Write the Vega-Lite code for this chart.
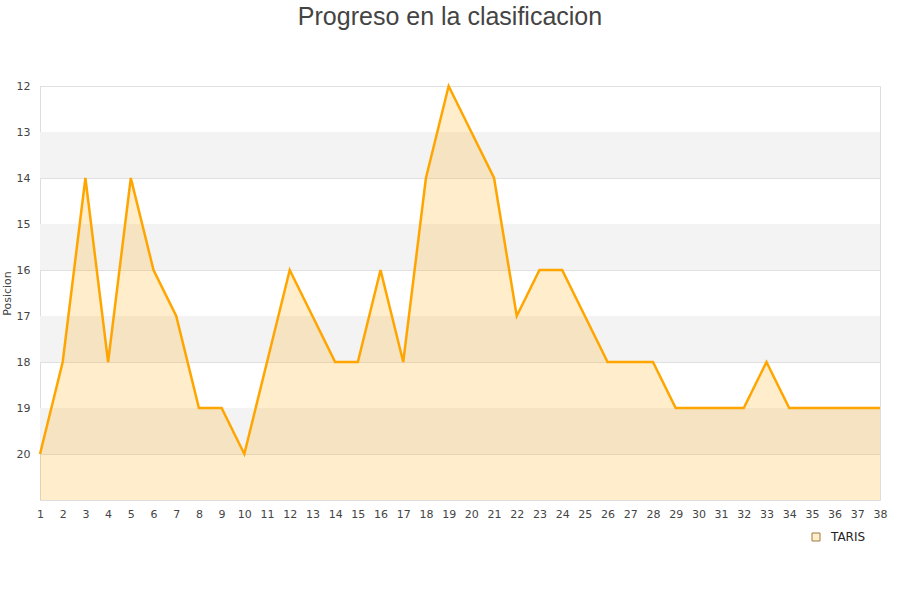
{
  "$schema": "https://vega.github.io/schema/vega-lite/v6.json",
  "width": 840,
  "height": 414,
  "autosize": {"type": "none"},
  "padding": {"left": 40, "top": 86, "right": 20, "bottom": 100},
  "title": {"text": "Progreso en la clasificacion", "fontSize": 25, "font": "Liberation Sans", "fontWeight": "normal", "color": "#444444", "anchor": "middle", "offset": 50, "dx": -10},
  "config": {
    "view": {"stroke": "#dddddd"},
    "axis": {"labelFont": "DejaVu Sans", "labelFontSize": 11, "labelColor": "#444444", "ticks": false, "domain": false, "gridColor": "#e0e0e0", "titleFont": "DejaVu Sans", "titleFontWeight": "normal", "titleFontSize": 11, "titleColor": "#444444"}
  },
  "datasets": {
    "bands": [
      {"b0": 13, "b1": 14},
      {"b0": 15, "b1": 16},
      {"b0": 17, "b1": 18},
      {"b0": 19, "b1": 20}
    ],
    "pos": [
      {"jornada": 1, "posicion": 20},
      {"jornada": 2, "posicion": 18},
      {"jornada": 3, "posicion": 14},
      {"jornada": 4, "posicion": 18},
      {"jornada": 5, "posicion": 14},
      {"jornada": 6, "posicion": 16},
      {"jornada": 7, "posicion": 17},
      {"jornada": 8, "posicion": 19},
      {"jornada": 9, "posicion": 19},
      {"jornada": 10, "posicion": 20},
      {"jornada": 11, "posicion": 18},
      {"jornada": 12, "posicion": 16},
      {"jornada": 13, "posicion": 17},
      {"jornada": 14, "posicion": 18},
      {"jornada": 15, "posicion": 18},
      {"jornada": 16, "posicion": 16},
      {"jornada": 17, "posicion": 18},
      {"jornada": 18, "posicion": 14},
      {"jornada": 19, "posicion": 12},
      {"jornada": 20, "posicion": 13},
      {"jornada": 21, "posicion": 14},
      {"jornada": 22, "posicion": 17},
      {"jornada": 23, "posicion": 16},
      {"jornada": 24, "posicion": 16},
      {"jornada": 25, "posicion": 17},
      {"jornada": 26, "posicion": 18},
      {"jornada": 27, "posicion": 18},
      {"jornada": 28, "posicion": 18},
      {"jornada": 29, "posicion": 19},
      {"jornada": 30, "posicion": 19},
      {"jornada": 31, "posicion": 19},
      {"jornada": 32, "posicion": 19},
      {"jornada": 33, "posicion": 18},
      {"jornada": 34, "posicion": 19},
      {"jornada": 35, "posicion": 19},
      {"jornada": 36, "posicion": 19},
      {"jornada": 37, "posicion": 19},
      {"jornada": 38, "posicion": 19}
    ]
  },
  "layer": [
    {
      "data": {"name": "bands"},
      "mark": {"type": "rect", "color": "#f3f3f3"},
      "encoding": {
        "y": {"field": "b0", "type": "quantitative", "scale": {"domain": [12, 21], "reverse": true, "nice": false, "zero": false}, "axis": {"values": [12,13,14,15,16,17,18,19,20], "title": "Posicion", "titleX": -28, "titleY": 207, "labelPadding": 10, "grid": true, "gridColor": "#e0e0e0"}},
        "y2": {"field": "b1"}
      }
    },
    {
      "data": {"name": "pos"},
      "mark": {"type": "area"},
      "encoding": {
        "x": {"field": "jornada", "type": "quantitative", "scale": {"domain": [1, 38], "nice": false, "zero": false}, "axis": {"values": [1,2,3,4,5,6,7,8,9,10,11,12,13,14,15,16,17,18,19,20,21,22,23,24,25,26,27,28,29,30,31,32,33,34,35,36,37,38], "title": null, "grid": false, "labelPadding": 8, "labelFlush": false, "labelOverlap": false}},
        "y": {"field": "posicion", "type": "quantitative"},
        "y2": {"datum": 21},
        "fill": {"datum": "TARIS", "type": "nominal", "scale": {"range": ["rgba(255,165,0,0.2)"]}, "legend": {"title": null, "orient": "none", "legendX": 770, "legendY": 445, "symbolType": "square", "symbolSize": 64, "symbolStrokeColor": "#a07840", "symbolStrokeWidth": 1, "symbolOpacity": 1, "labelOffset": 9, "labelFont": "DejaVu Sans", "labelFontSize": 12, "labelColor": "#222222"}}
      }
    },
    {
      "data": {"name": "pos"},
      "mark": {"type": "line", "color": "#ffa500", "strokeWidth": 2.5},
      "encoding": {
        "x": {"field": "jornada", "type": "quantitative", "axis": {"values": [1,2,3,4,5,6,7,8,9,10,11,12,13,14,15,16,17,18,19,20,21,22,23,24,25,26,27,28,29,30,31,32,33,34,35,36,37,38], "title": null, "grid": false, "labelPadding": 8, "labelFlush": false, "labelOverlap": false}},
        "y": {"field": "posicion", "type": "quantitative"}
      }
    }
  ]
}
